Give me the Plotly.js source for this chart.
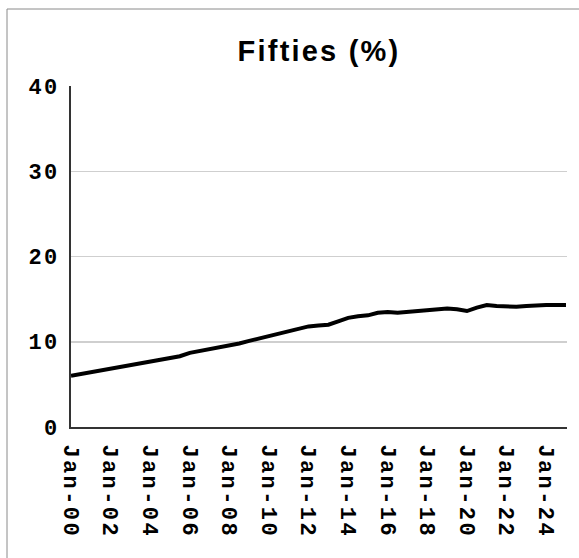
<!DOCTYPE html>
<html>
<head>
<meta charset="utf-8">
<script src="https://cdn.plot.ly/plotly-3.0.1.min.js"></script>
<style>
  html, body { margin: 0; padding: 0; background: #fff; }
  #chart { width: 579px; height: 558px; }
  .xtick text, .ytick text { letter-spacing: 2.4px; }
  .gtitle { letter-spacing: 2.2px; }
</style>
</head>
<body>
<div id="chart"></div>
<script>
const dates = [
  "2000-01-01","2000-07-01","2001-01-01","2001-07-01","2002-01-01","2002-07-01",
  "2003-01-01","2003-07-01","2004-01-01","2004-07-01","2005-01-01","2005-07-01",
  "2006-01-01","2006-07-01","2007-01-01","2007-07-01","2008-01-01","2008-07-01",
  "2009-01-01","2009-07-01","2010-01-01","2010-07-01","2011-01-01","2011-07-01",
  "2012-01-01","2012-07-01","2013-01-01","2013-07-01","2014-01-01","2014-07-01",
  "2015-01-01","2015-07-01","2016-01-01","2016-07-01","2017-01-01","2017-07-01",
  "2018-01-01","2018-07-01","2019-01-01","2019-07-01","2020-01-01","2020-07-01",
  "2021-01-01","2021-07-01","2022-01-01","2022-07-01","2023-01-01","2023-07-01",
  "2024-01-01","2024-07-01","2025-01-01"
];
const fifties = [
  6.0, 6.2, 6.4, 6.6, 6.8, 7.0,
  7.2, 7.4, 7.6, 7.8, 8.0, 8.3,
  8.7, 8.9, 9.1, 9.3, 9.5, 9.8,
  10.1, 10.4, 10.6, 10.9, 11.2, 11.6,
  11.8, 11.9, 12.0, 12.4, 12.8, 13.0,
  13.1, 13.4, 13.5, 13.4, 13.5, 13.6,
  13.7, 13.8, 13.9, 13.8, 13.6, 14.0,
  14.3, 14.2, 14.1, 14.1, 14.2, 14.3,
  14.3, 14.3, 14.3
];
const yTicks = [0, 10, 20, 30, 40];
const chartTitle = "Fifties (%)";

const tickFont = { family: "Liberation Mono, Courier New, monospace", size: 22, color: "#000", weight: "bold" };

Plotly.newPlot("chart", [{
  x: dates,
  y: fifties,
  type: "scatter",
  mode: "lines",
  line: { color: "#000", width: 4 },
  hoverinfo: "skip"
}], {
  width: 579,
  height: 558,
  margin: { l: 71, r: 12, t: 86, b: 131, pad: 0 },
  paper_bgcolor: "#fff",
  plot_bgcolor: "#fff",
  showlegend: false,
  title: {
    text: chartTitle,
    font: { family: "Liberation Sans, Arial, sans-serif", size: 29, color: "#000", weight: "bold" },
    x: 0.5, xref: "paper", xanchor: "center",
    y: 1 - 51 / 558, yref: "container", yanchor: "middle"
  },
  xaxis: {
    type: "date",
    range: ["2000-01-01", "2025-01-20"],
    tick0: "2000-01-01",
    dtick: "M24",
    tickformat: "%b-%y",
    tickangle: 90,
    tickfont: tickFont,
    ticks: "",
    ticklabelstandoff: 11,
    showgrid: false,
    zeroline: false,
    showline: true,
    linecolor: "#333",
    linewidth: 2,
    fixedrange: true
  },
  yaxis: {
    range: [0, 40],
    tickvals: yTicks,
    ticktext: yTicks.map(String),
    tickfont: tickFont,
    ticks: "",
    ticklabelstandoff: 5,
    showgrid: true,
    gridcolor: "#cfcfcf",
    gridwidth: 1.5,
    zeroline: false,
    showline: true,
    linecolor: "#333",
    linewidth: 2,
    fixedrange: true
  },
  shapes: [{
    type: "rect",
    xref: "paper", yref: "paper",
    x0: (7 - 71) / 496, x1: 1.2,
    y0: -1, y1: 1 + (86 - 9) / 341,
    line: { color: "#8a8a8a", width: 1 },
    fillcolor: "rgba(0,0,0,0)",
    layer: "below"
  }]
}, { staticPlot: true, displayModeBar: false });
</script>
</body>
</html>
